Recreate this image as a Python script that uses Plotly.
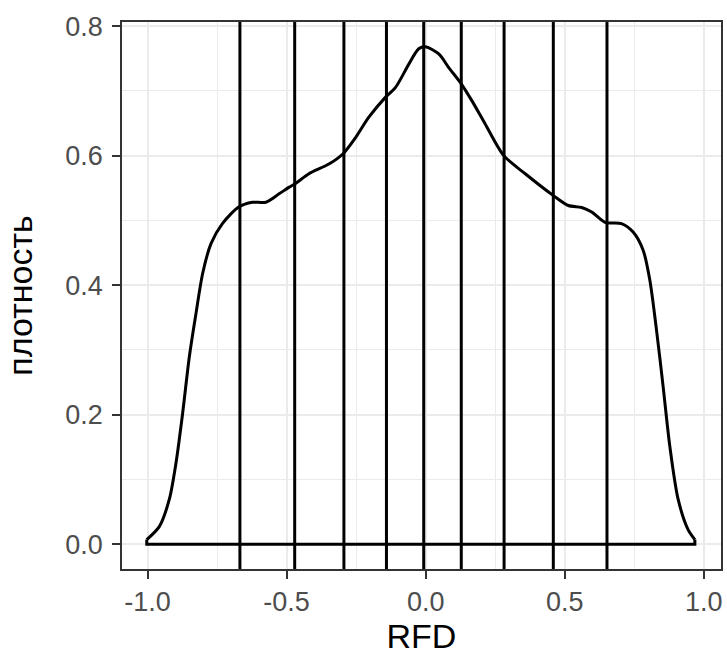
import plotly.graph_objects as go

# Density curve
x_vals = [-1.003, -0.958, -0.922, -0.898, -0.874, -0.850, -0.826, -0.802, -0.772, -0.731,
          -0.671, -0.623, -0.575, -0.527, -0.492, -0.468, -0.420, -0.348, -0.297, -0.252,
          -0.205, -0.145, -0.109, -0.061, -0.025, -0.001, 0.047, 0.083, 0.128, 0.166,
          0.214, 0.281, 0.358, 0.457, 0.513, 0.561, 0.597, 0.645, 0.704, 0.746,
          0.782, 0.806, 0.830, 0.854, 0.878, 0.908, 0.944, 0.968]
y_vals = [0.007, 0.027, 0.069, 0.125, 0.202, 0.289, 0.356, 0.418, 0.464, 0.495,
          0.521, 0.528, 0.528, 0.541, 0.551, 0.557, 0.572, 0.587, 0.603, 0.628,
          0.659, 0.690, 0.705, 0.741, 0.765, 0.768, 0.757, 0.736, 0.711, 0.685,
          0.649, 0.600, 0.572, 0.539, 0.523, 0.520, 0.513, 0.497, 0.495, 0.482,
          0.454, 0.408, 0.331, 0.243, 0.151, 0.069, 0.022, 0.007]

# Vertical lines (deciles)
vlines = [-0.668, -0.471, -0.294, -0.141, -0.007, 0.128, 0.282, 0.459, 0.652]

x_ticks = [-1.0, -0.5, 0.0, 0.5, 1.0]
x_tick_labels = ["-1.0", "-0.5", "0.0", "0.5", "1.0"]
y_ticks = [0.0, 0.2, 0.4, 0.6, 0.8]
y_tick_labels = ["0.0", "0.2", "0.4", "0.6", "0.8"]

x_title = "RFD"
y_title = "плотность"

fig = go.Figure()

fig.add_trace(go.Scatter(
    x=x_vals, y=y_vals, mode="lines",
    line=dict(color="black", width=3, shape="spline", smoothing=0.8),
    showlegend=False, hoverinfo="skip"))

# baseline closing the density outline
fig.add_trace(go.Scatter(
    x=[x_vals[0], x_vals[0], x_vals[-1], x_vals[-1]],
    y=[y_vals[0], 0, 0, y_vals[-1]], mode="lines",
    line=dict(color="black", width=3),
    showlegend=False, hoverinfo="skip"))

for v in vlines:
    fig.add_vline(x=v, line=dict(color="black", width=3))

font_family = "Liberation Sans, Arial, sans-serif"
axis_common = dict(
    showline=True, mirror=True, linecolor="#333333", linewidth=1.6,
    ticks="outside", ticklen=8, tickwidth=2, tickcolor="#333333",
    showgrid=True, gridcolor="#EBEBEB", gridwidth=2,
    zeroline=False,
    tickfont=dict(family=font_family, size=27, color="#4D4D4D"),
)

fig.update_xaxes(
    range=[-1.092, 1.062], tickmode="array", tickvals=x_ticks, ticktext=x_tick_labels,
    minor=dict(dtick=0.25, tick0=-0.75, showgrid=True, gridcolor="#EBEBEB", gridwidth=1),
    ticklabelstandoff=0,
    title=dict(text=x_title, font=dict(family=font_family, size=34, color="black"), standoff=8),
    **axis_common)
fig.update_yaxes(
    range=[-0.0384, 0.8064], tickmode="array", tickvals=y_ticks, ticktext=y_tick_labels,
    minor=dict(dtick=0.1, tick0=0.1, showgrid=True, gridcolor="#EBEBEB", gridwidth=1),
    ticklabelstandoff=4,
    title=dict(text=y_title, font=dict(family=font_family, size=34, color="black"), standoff=22),
    **axis_common)

fig.update_layout(
    width=727, height=658,
    margin=dict(l=122, r=4, t=22, b=89),
    plot_bgcolor="white", paper_bgcolor="white",
    showlegend=False,
)

fig.write_html("out.html")
